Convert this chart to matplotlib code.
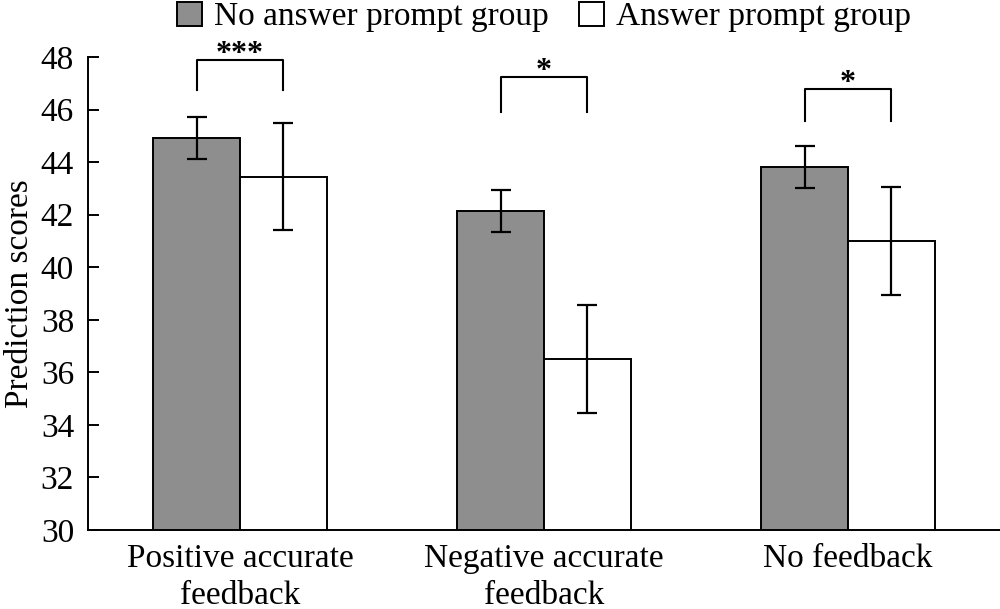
import numpy as np
import matplotlib
matplotlib.use("Agg")
import matplotlib.pyplot as plt

plt.rcParams["font.family"] = ["Liberation Serif", "DejaVu Serif"]

categories = ["Positive accurate\nfeedback", "Negative accurate\nfeedback", "No feedback"]
series_names = ["No answer prompt group", "Answer prompt group"]
no_prompt = [44.9, 42.15, 43.8]
no_prompt_err = [0.8, 0.8, 0.8]
with_prompt = [43.45, 36.5, 41.0]
with_prompt_err = [2.05, 2.05, 2.05]
sig_labels = ["***", "*", "*"]
sig_bracket_top = [47.88, 47.22, 46.78]
sig_bracket_leg = [46.74, 45.9, 45.57]

x = np.arange(len(categories))
width = 0.286

fig = plt.figure(figsize=(10, 6.09), dpi=100)
ax = fig.add_axes([0.088, 0.1297, 0.912, 0.7767])

err_kw = dict(ecolor="black", elinewidth=1.6, capsize=7, capthick=1.6)
ax.bar(x - width / 2, no_prompt, width, yerr=no_prompt_err, color="#8e8e8e",
       edgecolor="black", linewidth=1.4, error_kw=err_kw, label=series_names[0])
ax.bar(x + width / 2, with_prompt, width, yerr=with_prompt_err, color="white",
       edgecolor="black", linewidth=1.4, error_kw=err_kw, label=series_names[1])

# significance brackets
for i in range(len(categories)):
    x1, x2 = x[i] - width / 2, x[i] + width / 2
    top, leg = sig_bracket_top[i], sig_bracket_leg[i]
    ax.plot([x1, x1, x2, x2], [leg, top, top, leg], color="black", lw=1.5,
            clip_on=False)
    ax.text(x[i], top - 0.06, sig_labels[i], ha="center", va="baseline",
            fontsize=23, fontweight="bold", clip_on=False)

ax.set_xlim(-0.5, 2.5)
ax.set_ylim(30, 48)
ax.set_yticks(np.arange(30, 49, 2))
ax.set_xticks(x)
ax.set_xticklabels(categories, fontsize=24, linespacing=1.25)
ax.tick_params(axis="x", length=0, pad=10)
ax.tick_params(axis="y", direction="in", length=8, width=1.4, labelsize=24, pad=10)
ax.set_ylabel("Prediction scores", fontsize=24)
ax.yaxis.set_label_coords(-0.058, 0.5)

for side in ["top", "right"]:
    ax.spines[side].set_visible(False)
for side in ["left", "bottom"]:
    ax.spines[side].set_linewidth(1.4)

fig.legend(loc="upper center", bbox_to_anchor=(0.544, 1.0), ncol=2,
           frameon=False, fontsize=24, handlelength=0.75, handleheight=0.75,
           handletextpad=0.35, columnspacing=0.9, borderpad=0.05,
           borderaxespad=0)

fig.savefig("out.png", dpi=100)
